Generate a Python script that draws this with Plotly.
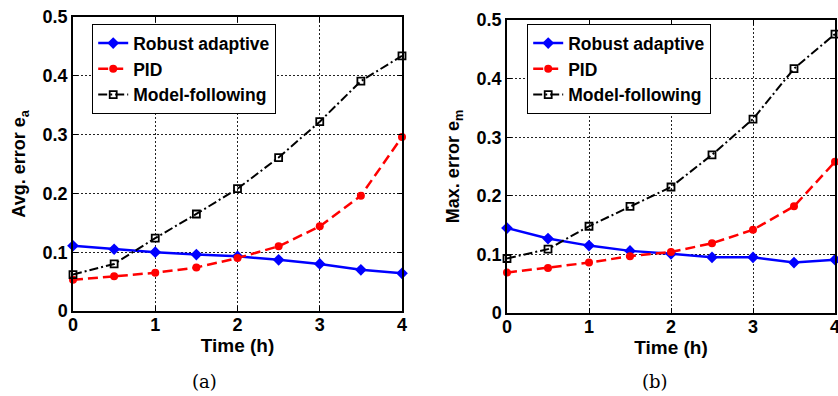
import plotly.graph_objects as go

t = [0, 0.5, 1, 1.5, 2, 2.5, 3, 3.5, 4]

# (a) average error
avg_robust = [0.111, 0.105, 0.100, 0.096, 0.093, 0.087, 0.080, 0.070, 0.064]
avg_pid = [0.053, 0.059, 0.065, 0.074, 0.090, 0.110, 0.144, 0.196, 0.296]
avg_model = [0.062, 0.080, 0.124, 0.165, 0.208, 0.261, 0.322, 0.391, 0.434]

# (b) maximum error
max_robust = [0.145, 0.127, 0.115, 0.106, 0.101, 0.095, 0.095, 0.086, 0.091]
max_pid = [0.069, 0.077, 0.086, 0.097, 0.104, 0.119, 0.142, 0.182, 0.258]
max_model = [0.093, 0.109, 0.148, 0.182, 0.215, 0.270, 0.331, 0.417, 0.476]

x_ticks = [0, 1, 2, 3, 4]
y_ticks = [0, 0.1, 0.2, 0.3, 0.4, 0.5]
y_ticklabels = ["0", "0.1", "0.2", "0.3", "0.4", "0.5"]

FONT = "Liberation Sans, Arial, sans-serif"
SERIF = "DejaVu Serif, Liberation Serif, serif"
W, H = 838, 396


def xp(px):
    return px / W


def yp(py):
    return (H - py) / H


fig = go.Figure()


def add_series(xa, ya, leg, rob, pid, mod):
    fig.add_trace(go.Scatter(x=t, y=rob, name="<b>Robust adaptive</b>", mode="lines+markers",
                             xaxis=xa, yaxis=ya, legend=leg, cliponaxis=False,
                             line=dict(color="#0000ff", width=2.5),
                             marker=dict(symbol="diamond", size=9, color="#0000ff")))
    fig.add_trace(go.Scatter(x=t, y=pid, name="<b>PID</b>", mode="lines+markers",
                             xaxis=xa, yaxis=ya, legend=leg, cliponaxis=False,
                             line=dict(color="#ff0000", width=2.5, dash="10px,5px"),
                             marker=dict(symbol="circle", size=8, color="#ff0000")))
    fig.add_trace(go.Scatter(x=t, y=mod, name="<b>Model-following</b>", mode="lines+markers",
                             xaxis=xa, yaxis=ya, legend=leg, cliponaxis=False,
                             line=dict(color="#000000", width=2, dash="9px,3px,2px,3px"),
                             marker=dict(symbol="square-open", size=7, color="#000000",
                                         line=dict(width=1.8, color="#000000"))))


add_series("x", "y", "legend", avg_robust, avg_pid, avg_model)
add_series("x2", "y2", "legend2", max_robust, max_pid, max_model)

common_axis = dict(automargin=False, showline=True, mirror="allticks", linecolor="black",
                   linewidth=1.5, ticks="inside", ticklen=5, tickcolor="black",
                   showgrid=True, gridcolor="#222222", griddash="2px,2px", gridwidth=1,
                   zeroline=False, tickfont=dict(size=18, color="black", family=FONT),
                   ticklabeloverflow="allow")


def xaxis(domain, anchor):
    return dict(domain=domain, anchor=anchor, range=[0, 4], tickvals=x_ticks,
                ticktext=[f"<b>{v}</b>" for v in x_ticks], ticklabelstandoff=-3,
                title=dict(text="<b>Time (h)</b>", font=dict(size=19, color="black", family=FONT),
                           standoff=0),
                **common_axis)


def yaxis(domain, anchor, title):
    return dict(domain=domain, anchor=anchor, range=[0, 0.5], tickvals=y_ticks,
                ticktext=[f"<b>{v}</b>" for v in y_ticklabels],
                title=dict(text=title, font=dict(size=18, color="black", family=FONT),
                           standoff=12),
                **common_axis)


legend_common = dict(bgcolor="white", bordercolor="black", borderwidth=1.2,
                     font=dict(size=17.5, color="black", family=FONT),
                     xanchor="left", yanchor="top", tracegroupgap=0, itemwidth=30)

fig.update_layout(
    width=W, height=H,
    margin=dict(l=0, r=0, t=0, b=0, autoexpand=False),
    paper_bgcolor="white", plot_bgcolor="white",
    font=dict(family=FONT, color="black"),
    xaxis=xaxis([xp(73), xp(402)], "y"),
    yaxis=yaxis([yp(311), yp(17)], "x", "<b>Avg. error e<sub>a</sub></b>"),
    xaxis2=xaxis([xp(507), xp(835)], "y2"),
    yaxis2=yaxis([yp(313), yp(20)], "x2", "<b>Max. error e<sub>m</sub></b>"),
    legend=dict(x=xp(92), y=yp(24), **legend_common),
    legend2=dict(x=xp(527), y=yp(24), **legend_common),
    annotations=[
        dict(text="(a)", x=xp(204), y=yp(381), xref="paper", yref="paper",
             xanchor="center", yanchor="middle",
             showarrow=False, font=dict(size=18, color="black", family=SERIF)),
        dict(text="(b)", x=xp(655), y=yp(381), xref="paper", yref="paper",
             xanchor="center", yanchor="middle",
             showarrow=False, font=dict(size=18, color="black", family=SERIF)),
    ],
)

fig.write_html("out.html", config={"displayModeBar": False},
               post_script="document.body.style.margin='0';")
